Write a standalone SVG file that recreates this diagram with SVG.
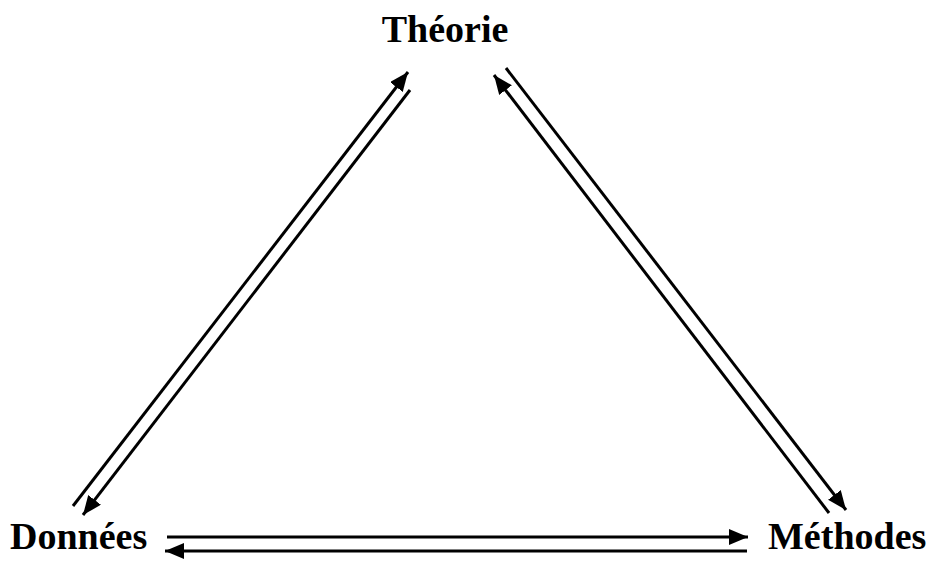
<svg xmlns="http://www.w3.org/2000/svg" width="930" height="562" viewBox="0 0 930 562">
<style>
.lbl{font-family:"Liberation Serif","Times New Roman",serif;font-weight:bold;font-size:38px;fill:#000}
.c{stroke:#000;stroke-width:3;fill:none;marker-end:url(#ah)}
</style>
<defs>
<marker id="ah" markerUnits="userSpaceOnUse" markerWidth="22" markerHeight="18" refX="19" refY="8" orient="auto">
<path d="M0,0 L19,8 L0,16 Z" fill="#000"/>
</marker>
</defs>
<rect width="930" height="562" fill="#fff"/>
<g id="theorie"><text class="lbl" x="445" y="42" text-anchor="middle">Théorie</text></g>
<g id="donnees"><text class="lbl" x="10" y="549">Données</text></g>
<g id="methodes"><text class="lbl" x="768" y="549">Méthodes</text></g>
<g id="connectors">
<line class="c" x1="73" y1="506" x2="408" y2="72"/>
<line class="c" x1="410" y1="90" x2="83" y2="515"/>
<line class="c" x1="506" y1="68" x2="846" y2="510"/>
<line class="c" x1="829" y1="513" x2="494" y2="75"/>
<line class="c" x1="167" y1="537" x2="748" y2="537"/>
<line class="c" x1="747" y1="551" x2="165" y2="551"/>
</g>
</svg>
